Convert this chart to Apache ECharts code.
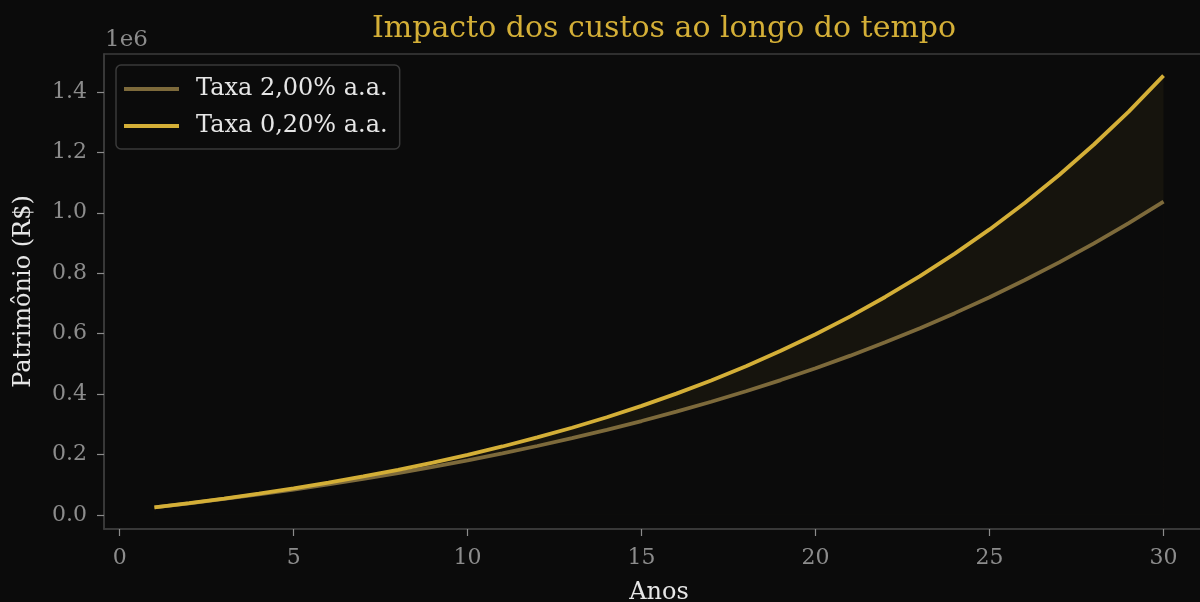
<!DOCTYPE html>
<html><head><meta charset="utf-8">
<script src="https://cdn.jsdelivr.net/npm/echarts@6/dist/echarts.min.js"></script>
<style>html,body{margin:0;padding:0;background:#0b0b0b}#c{width:1200px;height:602px}</style>
</head><body><div id="c"></div>
<script>
const titleText = 'Impacto dos custos ao longo do tempo';
const xName = 'Anos';
const yName = 'Patrimônio (R$)';
const offsetText = '1e6';
const seriesNames = ['Taxa 2,00% a.a.', 'Taxa 0,20% a.a.'];
const years = [1,2,3,4,5,6,7,8,9,10,11,12,13,14,15,16,17,18,19,20,21,22,23,24,25,26,27,28,29,30];
const fee200 = [24700,38200,52600,67800,83900,101000,119200,138500,158900,180600,203600,228000,254000,281400,310600,341600,374400,409200,446200,485400,527000,571200,618000,667700,720400,776400,835800,898700,965600,1036500];
const fee020 = [24900,38900,54000,70300,87800,106700,127200,149200,173000,198700,226400,256300,288500,323300,360800,401300,445000,492200,543100,598000,657200,721200,790100,864600,944900,1031500,1125000,1225900,1334700,1454000];
const xTicks = [0,5,10,15,20,25,30];
const yTicks = [0,200000,400000,600000,800000,1000000,1200000,1400000];

const gold = '#d4af37';
const dimGold = '#7d6a3b';
const bg = '#0b0b0b';
const serif = 'DejaVu Serif';

const chart = echarts.init(document.getElementById('c'), null, {renderer: 'canvas'});
const pairs = arr => years.map((y, i) => [y, arr[i]]);

chart.setOption({
  backgroundColor: bg,
  animation: false,
  title: {
    text: titleText, left: 659, textAlign: 'center', top: 9,
    textStyle: {color: gold, fontFamily: serif, fontSize: 30, fontWeight: 'normal'}
  },
  graphic: [{
    type: 'text', left: 105, top: 29,
    style: {text: offsetText, fill: '#8c8c8c', font: '23px "DejaVu Serif"'}
  }],
  legend: {
    orient: 'vertical', left: 116, top: 65,
    data: seriesNames.map(n => ({name: n, icon: 'rect'})),
    itemWidth: 55, itemHeight: 4, itemGap: 13,
    padding: [12, 12, 11, 8],
    backgroundColor: bg, borderColor: '#3a3a3a', borderWidth: 1.5, borderRadius: 5,
    textStyle: {color: '#e6e6e6', fontFamily: serif, fontSize: 24, padding: [0, 0, 0, 12]}
  },
  grid: {left: 104, top: 54, width: 1110, height: 475, show: true, borderColor: '#3d3d3d', borderWidth: 1.5,
    containLabel: false, outerBoundsMode: 'none'},
  xAxis: {
    type: 'value', min: -0.45, max: 31.45,
    name: xName, nameLocation: 'middle', nameGap: 52,
    nameTextStyle: {color: '#e6e6e6', fontFamily: serif, fontSize: 24},
    axisLine: {show: true, onZero: false, lineStyle: {color: '#3d3d3d', width: 1.5}},
    axisTick: {show: true, length: 7, lineStyle: {color: '#8c8c8c', width: 1.2}, customValues: xTicks},
    axisLabel: {color: '#8c8c8c', fontFamily: serif, fontSize: 22, margin: 18, customValues: xTicks},
    splitLine: {show: false}
  },
  yAxis: {
    type: 'value',
    min: v => v.min - 0.05 * (v.max - v.min),
    max: v => v.max + 0.05 * (v.max - v.min),
    name: yName, nameLocation: 'middle', nameGap: 68, nameRotate: 90,
    nameTextStyle: {color: '#e6e6e6', fontFamily: serif, fontSize: 24},
    axisLine: {show: true, onZero: false, lineStyle: {color: '#3d3d3d', width: 1.5}},
    axisTick: {show: true, length: 7, lineStyle: {color: '#8c8c8c', width: 1.2}, customValues: yTicks},
    axisLabel: {color: '#8c8c8c', fontFamily: serif, fontSize: 22, margin: 17,
      customValues: yTicks, formatter: v => (v / 1e6).toFixed(1)},
    splitLine: {show: false}
  },
  series: [
    {type: 'line', name: '_bandTop', data: pairs(fee020), symbol: 'none',
      lineStyle: {width: 0, opacity: 0}, areaStyle: {color: 'rgba(212,175,55,0.08)'}, silent: true, z: 1},
    {type: 'line', name: '_bandBottom', data: pairs(fee200), symbol: 'none',
      lineStyle: {width: 0, opacity: 0}, areaStyle: {color: bg, opacity: 1}, silent: true, z: 2},
    {type: 'line', name: seriesNames[0], data: pairs(fee200), symbol: 'none', showSymbol: false,
      lineStyle: {color: dimGold, width: 3.8}, itemStyle: {color: dimGold}, z: 3},
    {type: 'line', name: seriesNames[1], data: pairs(fee020), symbol: 'none', showSymbol: false,
      lineStyle: {color: gold, width: 3.8}, itemStyle: {color: gold}, z: 4}
  ]
});
</script></body></html>
